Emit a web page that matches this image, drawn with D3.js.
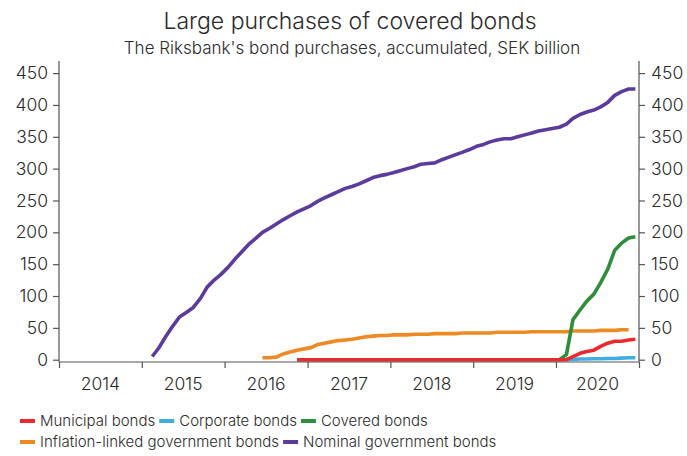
<!DOCTYPE html>
<html>
<head>
<meta charset="utf-8">
<script src="https://cdn.jsdelivr.net/npm/d3@7"></script>
<style>
  html, body { margin: 0; padding: 0; background: #fff; }
  svg { display: block; }
  text { font-family: "Inter", "Noto Sans", sans-serif; fill: #2b2b2b; }
</style>
</head>
<body>
<svg id="chart" width="687" height="456"></svg>
<script>
// ---------- DATA (monthly, accumulated, SEK billion) ----------
const title = "Large purchases of covered bonds";
const subtitle = "The Riksbank's bond purchases, accumulated, SEK billion";
const yearLabels = ["2014", "2015", "2016", "2017", "2018", "2019", "2020"];
const yTicks = [0, 50, 100, 150, 200, 250, 300, 350, 400, 450];

const nominalStart = "2015-02";
const nominal = [
  5, 18, 36, 52, 67, 74, 82, 96, 114, 125, 134,
  145, 158, 169, 181, 190, 200, 206, 213, 220, 226, 232, 237,
  242, 249, 254, 259, 264, 269, 272, 276, 281, 286, 289, 291,
  294, 297, 300, 303, 307, 308, 309, 314, 318, 322, 326, 330,
  335, 338, 342, 345, 347, 347, 350, 353, 356, 359, 361, 363,
  365, 370, 379, 385, 389, 392, 397, 404, 415, 421, 425, 425
];

const inflationStart = "2016-06";
const inflation = [
  3, 3, 4, 9, 12, 15, 17,
  19, 24, 26, 28, 30, 31, 32, 34, 36, 37, 38, 38,
  39, 39, 39, 40, 40, 40, 41, 41, 41, 41, 42, 42,
  42, 42, 42, 43, 43, 43, 43, 43, 44, 44, 44, 44,
  44, 44, 45, 45, 45, 45, 46, 46, 46, 47, 47
];

const otherStart = "2016-11";
const corporate = [
  0, 0,
  0, 0, 0, 0, 0, 0, 0, 0, 0, 0, 0, 0,
  0, 0, 0, 0, 0, 0, 0, 0, 0, 0, 0, 0,
  0, 0, 0, 0, 0, 0, 0, 0, 0, 0, 0, 0,
  0, 0, 0.5, 1, 1, 1.5, 1.5, 2, 2, 2.5, 3, 3
];
const covered = [
  0, 0,
  0, 0, 0, 0, 0, 0, 0, 0, 0, 0, 0, 0,
  0, 0, 0, 0, 0, 0, 0, 0, 0, 0, 0, 0,
  0, 0, 0, 0, 0, 0, 0, 0, 0, 0, 0, 0,
  0, 8, 63, 78, 92, 103, 121, 142, 172, 183, 191, 193
];
const municipal = [
  0, 0,
  0, 0, 0, 0, 0, 0, 0, 0, 0, 0, 0, 0,
  0, 0, 0, 0, 0, 0, 0, 0, 0, 0, 0, 0,
  0, 0, 0, 0, 0, 0, 0, 0, 0, 0, 0, 0,
  0, 0, 5, 10, 13, 15, 21, 26, 29, 29, 31, 32
];

const seriesNames = ["Municipal bonds", "Corporate bonds", "Covered bonds",
                     "Inflation-linked government bonds", "Nominal government bonds"];
const seriesColors = ["#ea2a2d", "#41ace2", "#2f8d3b", "#ee8a24", "#5b3c9c"];

// ---------- BUILD ----------
const parseMonth = d3.timeParse("%Y-%m");
function toPoints(start, values) {
  const s = parseMonth(start);
  return values.map((v, i) => {
    const d = d3.timeMonth.offset(s, i);
    return { date: new Date(d.getFullYear(), d.getMonth(), 16), value: v };
  });
}
const series = [
  { name: seriesNames[3], color: seriesColors[3], pts: toPoints(inflationStart, inflation) },
  { name: seriesNames[4], color: seriesColors[4], pts: toPoints(nominalStart, nominal) },
  { name: seriesNames[1], color: seriesColors[1], pts: toPoints(otherStart, corporate) },
  { name: seriesNames[2], color: seriesColors[2], pts: toPoints(otherStart, covered) },
  { name: seriesNames[0], color: seriesColors[0], pts: toPoints(otherStart, municipal) }
];

const svg = d3.select("#chart");
const L = 59, R = 639, T = 61, B = 362;

const x = d3.scaleTime()
  .domain([new Date(2014, 0, 1), new Date(2021, 0, 1)])
  .range([L, R]);
const y = d3.scaleLinear()
  .domain([-3.6, 469])
  .range([B, T]);

// Title
svg.append("text").attr("x", 350).attr("y", 29).attr("text-anchor", "middle")
  .style("font-size", "23px").style("font-weight", 300).text(title);
svg.append("text").attr("x", 352).attr("y", 54).attr("text-anchor", "middle")
  .style("font-size", "17px").style("font-weight", 300).text(subtitle);

const axisColor = "#555";
const tickFont = "17.5px";

// Left axis
const yAxisL = d3.axisLeft(y).tickValues(yTicks).tickSize(6).tickPadding(5);
const gL = svg.append("g").attr("transform", `translate(${L},0)`).call(yAxisL);
// Right axis
const yAxisR = d3.axisRight(y).tickValues(yTicks).tickSize(6).tickPadding(6);
const gR = svg.append("g").attr("transform", `translate(${R},0)`).call(yAxisR);
// Bottom axis
const yearTicks = d3.range(2014, 2022).map(yr => new Date(yr, 0, 1));
const xAxis = d3.axisBottom(x).tickValues(yearTicks).tickSize(6).tickFormat("");
const gB = svg.append("g").attr("transform", `translate(0,${B})`).call(xAxis);

[gL, gR, gB].forEach(g => {
  g.select(".domain").attr("stroke", axisColor).attr("stroke-width", 1.2);
  g.selectAll(".tick line").attr("stroke", axisColor).attr("stroke-width", 1.2);
  g.selectAll(".tick text").style("font-size", tickFont).style("font-weight", 300)
    .attr("fill", "#2b2b2b").style("font-family", "Inter, sans-serif");
});
gL.select(".domain").attr("d", `M0,${T}V${B}`);
gR.select(".domain").attr("d", `M0,${T}V${B}`);
gB.select(".domain").attr("d", `M${L},0H${R}`);

// Year labels centered between ticks
svg.append("g").selectAll("text").data(yearLabels).join("text")
  .attr("x", d => (x(new Date(+d, 0, 1)) + x(new Date(+d + 1, 0, 1))) / 2)
  .attr("y", 390)
  .attr("text-anchor", "middle")
  .style("font-size", tickFont).style("font-weight", 300)
  .text(d => d);

// Lines
const line = d3.line().x(d => x(d.date)).y(d => y(d.value));
svg.append("g").selectAll("path").data(series).join("path")
  .attr("d", d => line(d.pts))
  .attr("fill", "none")
  .attr("stroke", d => d.color)
  .attr("stroke-width", 3.6)
  .attr("stroke-linejoin", "round");

// Legend
const legendRows = [
  [0, 1, 2],
  [3, 4]
];
const legendY = [421, 442];
legendRows.forEach((row, ri) => {
  let cx = 20;
  row.forEach(idx => {
    const g = svg.append("g");
    g.append("line").attr("x1", cx).attr("x2", cx + 15)
      .attr("y1", legendY[ri]).attr("y2", legendY[ri])
      .attr("stroke", seriesColors[idx]).attr("stroke-width", 4);
    const t = g.append("text").attr("x", cx + 20).attr("y", legendY[ri])
      .attr("dy", "0.35em")
      .style("font-size", "15px").style("font-weight", 300)
      .text(seriesNames[idx]);
    cx += 20 + t.node().getComputedTextLength() + 4;
  });
});
</script>
</body>
</html>
